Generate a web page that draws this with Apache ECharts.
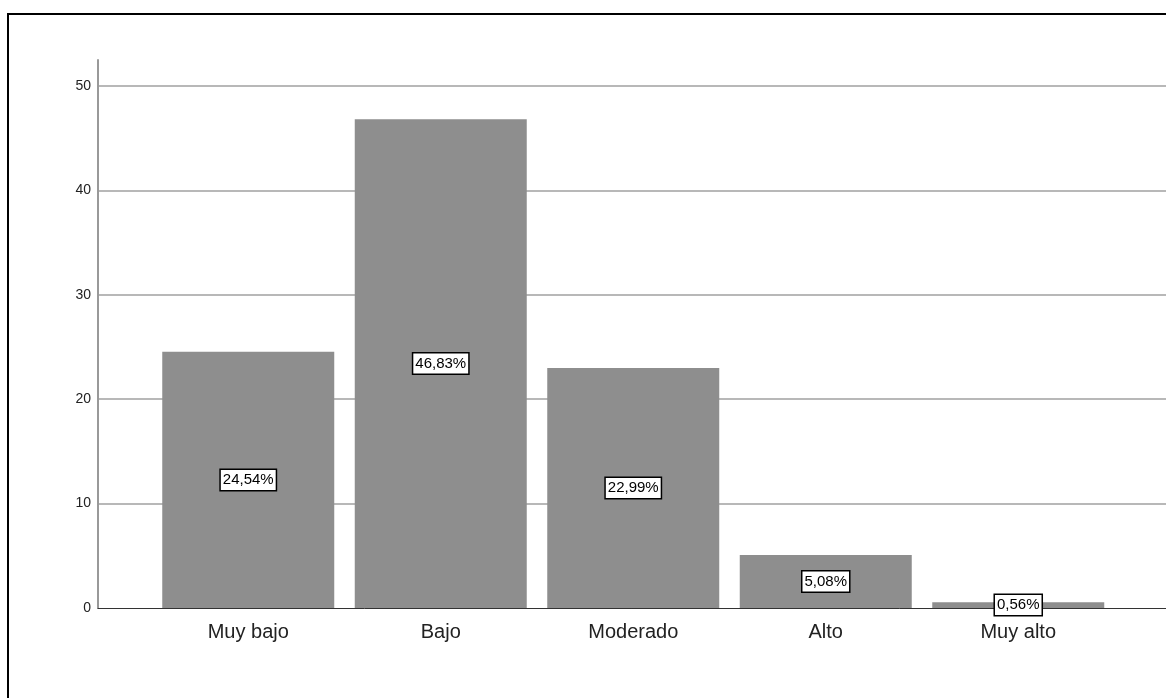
<!DOCTYPE html>
<html>
<head>
<meta charset="utf-8">
<script src="https://cdn.jsdelivr.net/npm/echarts@6/dist/echarts.min.js"></script>
<style>
html,body{margin:0;padding:0;background:#fff;}
#wrap{position:relative;width:1166px;height:698px;overflow:hidden;}
#chart{position:absolute;left:0;top:0;width:1166px;height:698px;}
#frame{position:absolute;left:7px;top:13px;width:1300px;height:800px;border:2px solid #000;box-sizing:border-box;pointer-events:none;}
</style>
</head>
<body>
<div id="wrap"><div id="chart"></div><div id="frame"></div></div>
<script>
const categories = ['Muy bajo', 'Bajo', 'Moderado', 'Alto', 'Muy alto'];
const percentValues = [24.54, 46.83, 22.99, 5.08, 0.56];
const yTicks = [0, 10, 20, 30, 40, 50];

const FONT = '"Liberation Sans", Arial, sans-serif';
const yMax = 52.5;

const chart = echarts.init(document.getElementById('chart'), null, {renderer: 'canvas'});
chart.setOption({
  backgroundColor: '#fff',
  animation: false,
  grid: [
    {left: 98, right: -20, top: 60, bottom: 90, containLabel: false},
    {left: 152, right: 51.5, top: 60, bottom: 90, containLabel: false}
  ],
  xAxis: [
    {
      gridIndex: 0, type: 'value', min: 0, max: 1,
      axisLine: {show: true, lineStyle: {color: '#333', width: 1}},
      axisTick: {show: false}, axisLabel: {show: false}, splitLine: {show: false}
    },
    {
      gridIndex: 1, type: 'category', data: categories,
      axisLine: {show: false}, axisTick: {show: false},
      axisLabel: {fontFamily: FONT, fontSize: 20, color: '#222', margin: 14}
    }
  ],
  yAxis: [
    {
      gridIndex: 0, type: 'value', min: yTicks[0], max: yMax, interval: 10,
      axisLine: {show: true, lineStyle: {color: '#999', width: 2}},
      axisTick: {show: false},
      axisLabel: {
        fontFamily: FONT, fontSize: 14, color: '#222', margin: 7,
        showMaxLabel: false,
        formatter: v => yTicks.indexOf(v) >= 0 ? String(v) : ''
      },
      splitLine: {show: true, showMaxLine: false, showMinLine: false, lineStyle: {color: '#b8b8b8', width: 2}}
    },
    {
      gridIndex: 1, type: 'value', min: yTicks[0], max: yMax,
      show: false, splitLine: {show: false}
    }
  ],
  series: [{
    type: 'bar',
    xAxisIndex: 1, yAxisIndex: 1,
    data: percentValues,
    barWidth: 172,
    itemStyle: {color: '#8e8e8e'},
    z: 3,
    label: {
      show: true, position: 'inside',
      fontFamily: FONT, fontSize: 15, color: '#000',
      backgroundColor: '#fff', borderColor: '#000', borderWidth: 1.5,
      padding: [3, 2, 2, 2],
      formatter: p => p.value.toFixed(2).replace('.', ',') + '%'
    }
  }]
});
</script>
</body>
</html>
